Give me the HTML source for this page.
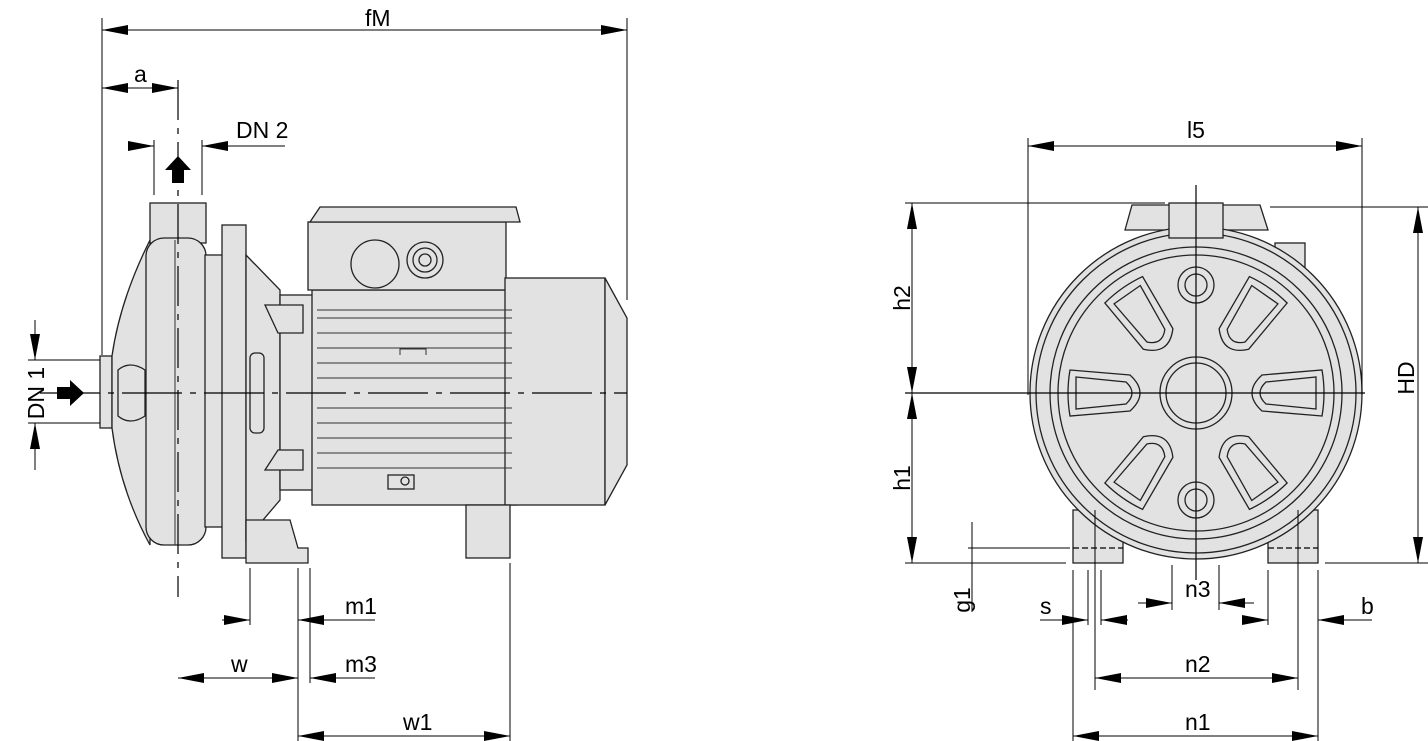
<!DOCTYPE html>
<html><head><meta charset="utf-8"><style>
html,body{margin:0;padding:0;background:#fff;}
svg{display:block}
text{font-family:"Liberation Sans",sans-serif;font-size:23px;fill:#000}
</style></head><body>
<svg width="1428" height="741" viewBox="0 0 1428 741" xmlns="http://www.w3.org/2000/svg">
<defs>
<marker id="ae" markerWidth="26" markerHeight="10" refX="26" refY="5" orient="auto" markerUnits="userSpaceOnUse"><path d="M0,0 L26,5 L0,10 Z" fill="#000"/></marker>
<marker id="as" markerWidth="26" markerHeight="10" refX="0" refY="5" orient="auto" markerUnits="userSpaceOnUse"><path d="M26,0 L0,5 L26,10 Z" fill="#000"/></marker>
</defs>
<g fill="#e2e2e2" stroke="#222" stroke-width="1.3">
<rect x="100" y="356" width="12" height="72"/>
<path d="M150,240 Q120,300 112,356 L112,428 Q120,490 150,545 Z"/>
<path d="M118,370 Q130,360 145,370 L145,416 Q130,426 118,416 Z"/>
<rect x="150" y="203" width="56" height="40"/>
<rect x="146" y="238" width="60" height="307" rx="18"/>
<rect x="205" y="255" width="20" height="272"/>
<rect x="222" y="225" width="24" height="333"/>
<path d="M246,255 L280,290 L280,500 L246,540 Z"/>
<rect x="280" y="295" width="35" height="195"/>
<path d="M265,305 L303,305 L303,333 L278,333 Z"/>
<path d="M265,470 L303,470 L303,450 L278,450 Z"/>
<rect x="250" y="353" width="14" height="80" rx="5"/>
<path d="M246,520 L290,520 L298,548 L308,548 L308,563 L246,563 Z"/>
<rect x="312" y="290" width="205" height="215"/>
<rect x="308" y="222" width="198" height="68"/>
<path d="M310,222 L320,207 L516,207 L520,222 Z"/>
<circle cx="375" cy="264" r="24"/>
<circle cx="425" cy="260" r="18"/><circle cx="425" cy="260" r="12"/><circle cx="425" cy="260" r="6"/>
<rect x="505" y="278" width="100" height="227"/>
<path d="M605,278 L627,318 L627,465 L605,505 Z"/>
<rect x="466" y="505" width="44" height="53"/>
<rect x="388" y="475" width="26" height="14"/><circle cx="405" cy="481" r="4"/>
<rect x="1073" y="510" width="50" height="53"/>
<rect x="1268" y="510" width="50" height="53"/>
<rect x="1275" y="243" width="30" height="40"/>
<path d="M1125,230 L1132,205 L1260,205 L1268,230 Z"/>
<circle cx="1196" cy="393" r="166"/>
<circle cx="1196" cy="393" r="160"/>
<circle cx="1196" cy="393" r="146"/>
<circle cx="1196" cy="393" r="138"/>
<rect x="1169" y="203" width="54" height="35"/>
<circle cx="1196" cy="393" r="36"/><circle cx="1196" cy="393" r="30"/>
<circle cx="1196" cy="285" r="18"/><circle cx="1196" cy="285" r="11"/>
<circle cx="1196" cy="500" r="18"/><circle cx="1196" cy="500" r="11"/>
<g id="lobe"><path d="M1070,370 L1130,375 Q1150,393 1130,411 L1070,416 Q1066,393 1070,370 Z"/><path d="M1076,377 L1126,382 Q1138,393 1126,404 L1076,409 Z"/></g>
<use href="#lobe" transform="rotate(180 1196 393)"/>
<use href="#lobe" transform="rotate(55 1196 393)"/>
<use href="#lobe" transform="rotate(125 1196 393)"/>
<use href="#lobe" transform="rotate(-55 1196 393)"/>
<use href="#lobe" transform="rotate(-125 1196 393)"/>
</g>
<g stroke="#333" stroke-width="1" fill="none">
<line x1="317" y1="310" x2="512" y2="310"/>
<path d="M317,318 H512 M317,333 H512 M317,348 H512 M317,363 H512 M317,378 H512 M317,408 H512 M317,423 H512 M317,438 H512 M317,453 H512 M317,468 H512"/>
<path d="M400,355 v-6 h26 v6"/>
<path d="M175,240 Q175,393 175,545"/>
</g>
<g stroke="#000" stroke-width="1.2" fill="none">
<line x1="40" y1="393" x2="627" y2="393" stroke-dasharray="60,8,6,8"/>
<line x1="178" y1="80" x2="178" y2="597" stroke-dasharray="40,8,6,8"/>
<line x1="905" y1="393" x2="1365" y2="393"/>
<line x1="1196" y1="185" x2="1196" y2="580"/>
<path d="M1073,548 H1123 M1268,548 H1318" stroke-dasharray="6,3"/>
</g>
<g stroke="#000" stroke-width="1" fill="none">
<line x1="102" y1="18" x2="102" y2="355"/>
<line x1="627" y1="18" x2="627" y2="300"/>
<line x1="102" y1="30" x2="627" y2="30" marker-start="url(#as)" marker-end="url(#ae)"/>
<line x1="102" y1="88" x2="178" y2="88" marker-start="url(#as)" marker-end="url(#ae)"/>
<line x1="154" y1="140" x2="154" y2="195"/><line x1="202" y1="140" x2="202" y2="195"/>
<line x1="128" y1="146" x2="154" y2="146" marker-end="url(#ae)"/>
<line x1="285" y1="146" x2="202" y2="146" marker-end="url(#ae)"/>
<line x1="28" y1="360" x2="100" y2="360"/><line x1="28" y1="423" x2="100" y2="423"/>
<line x1="35" y1="320" x2="35" y2="360" marker-end="url(#ae)"/>
<line x1="35" y1="470" x2="35" y2="423" marker-end="url(#ae)"/>
<line x1="250" y1="568" x2="250" y2="625"/><line x1="298" y1="568" x2="298" y2="741"/>
<line x1="310" y1="568" x2="310" y2="683"/><line x1="510" y1="563" x2="510" y2="741"/>
<line x1="222" y1="620" x2="250" y2="620" marker-end="url(#ae)"/>
<line x1="375" y1="620" x2="298" y2="620" marker-end="url(#ae)"/>
<line x1="178" y1="678" x2="298" y2="678" marker-start="url(#as)" marker-end="url(#ae)"/>
<line x1="375" y1="678" x2="310" y2="678" marker-end="url(#ae)"/>
<line x1="298" y1="736" x2="510" y2="736" marker-start="url(#as)" marker-end="url(#ae)"/>
<line x1="1028" y1="138" x2="1028" y2="395"/><line x1="1362" y1="138" x2="1362" y2="395"/>
<line x1="1028" y1="146" x2="1362" y2="146" marker-start="url(#as)" marker-end="url(#ae)"/>
<line x1="905" y1="203" x2="1165" y2="203"/>
<line x1="905" y1="563" x2="1066" y2="563"/>
<line x1="912" y1="203" x2="912" y2="393" marker-start="url(#as)" marker-end="url(#ae)"/>
<line x1="912" y1="393" x2="912" y2="563" marker-start="url(#as)" marker-end="url(#ae)"/>
<line x1="1270" y1="207" x2="1428" y2="207"/><line x1="1325" y1="563" x2="1428" y2="563"/>
<line x1="1418" y1="207" x2="1418" y2="563" marker-start="url(#as)" marker-end="url(#ae)"/>
<line x1="968" y1="548" x2="1070" y2="548"/>
<line x1="972" y1="522" x2="972" y2="612"/>
<line x1="1073" y1="570" x2="1073" y2="741"/><line x1="1318" y1="570" x2="1318" y2="741"/>
<line x1="1088" y1="570" x2="1088" y2="625"/><line x1="1095" y1="510" x2="1095" y2="690"/>
<line x1="1101" y1="570" x2="1101" y2="625"/>
<line x1="1298" y1="510" x2="1298" y2="690"/><line x1="1268" y1="570" x2="1268" y2="625"/>
<line x1="1172" y1="565" x2="1172" y2="610"/><line x1="1219" y1="565" x2="1219" y2="610"/>
<line x1="1040" y1="620" x2="1088" y2="620" marker-end="url(#ae)"/>
<line x1="1128" y1="620" x2="1101" y2="620" marker-end="url(#ae)"/>
<line x1="1138" y1="603" x2="1172" y2="603" marker-end="url(#ae)"/>
<line x1="1254" y1="603" x2="1219" y2="603" marker-end="url(#ae)"/>
<line x1="1242" y1="620" x2="1268" y2="620" marker-end="url(#ae)"/>
<line x1="1372" y1="620" x2="1318" y2="620" marker-end="url(#ae)"/>
<line x1="1095" y1="678" x2="1298" y2="678" marker-start="url(#as)" marker-end="url(#ae)"/>
<line x1="1073" y1="736" x2="1318" y2="736" marker-start="url(#as)" marker-end="url(#ae)"/>
</g>
<path d="M57,387 H70 V380 L84,393 L70,406 V399 H57 Z" fill="#000"/>
<path d="M172,183 V170 H165 L178,156 L191,170 H184 V183 Z" fill="#000"/>
<text x="365" y="26">fM</text>
<text x="134" y="82">a</text>
<text x="236" y="138">DN 2</text>
<text transform="translate(44,393) rotate(-90)" text-anchor="middle">DN 1</text>
<text x="345" y="614">m1</text>
<text x="231" y="672">w</text>
<text x="345" y="672">m3</text>
<text x="403" y="730">w1</text>
<text x="1187" y="138">l5</text>
<text transform="translate(910,298) rotate(-90)" text-anchor="middle">h2</text>
<text transform="translate(910,478) rotate(-90)" text-anchor="middle">h1</text>
<text transform="translate(1414,378) rotate(-90)" text-anchor="middle">HD</text>
<text transform="translate(970,600) rotate(-90)" text-anchor="middle">g1</text>
<text x="1040" y="614">s</text>
<text x="1185" y="597">n3</text>
<text x="1361" y="614">b</text>
<text x="1185" y="672">n2</text>
<text x="1185" y="730">n1</text>
</svg>
</body></html>
